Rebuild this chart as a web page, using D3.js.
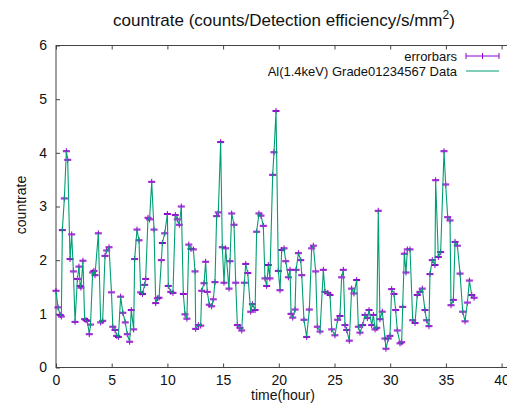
<!DOCTYPE html>
<html lang="en">
<head>
    <meta charset="UTF-8">
    <title>countrate</title>
    <style>
        body {
            margin: 0;
            padding: 0;
            background-color: #fff;
        }

        svg {
            display: block;
            overflow: hidden;
            font-family: Arial, "Liberation Sans", sans-serif;
        }

        .axis path, .axis line {
            stroke: #444;
        }

        .axis text {
            fill: #111;
            font-size: 14px;
        }
    </style>
</head>
<body>

<div id="chart"></div>

<script src="https://d3js.org/d3.v7.min.js"></script>

<script>
    // time in hours and countrate
    const hours = [
        0.00, 0.18, 0.38, 0.48, 0.57, 0.75, 0.93, 1.05, 1.26, 1.41,
        1.56, 1.71, 1.92, 2.06, 2.17, 2.24, 2.42, 2.57, 2.70, 2.81,
        2.99, 3.10, 3.29, 3.40, 3.50, 3.80, 4.01, 4.19, 4.40, 4.55,
        4.76, 4.98, 5.10, 5.30, 5.45, 5.60, 5.80, 6.00, 6.22, 6.40,
        6.61, 6.76, 6.97, 7.06, 7.27, 7.45, 7.60, 7.76, 7.96, 8.05,
        8.26, 8.40, 8.59, 8.80, 8.95, 9.10, 9.25, 9.46, 9.55, 9.76,
        10.00, 10.08, 10.30, 10.50, 10.71, 10.89, 11.07, 11.25, 11.43, 11.58,
        11.75, 11.92, 12.12, 12.33, 12.48, 12.54, 12.78, 12.99, 13.08, 13.29,
        13.43, 13.58, 13.76, 13.97, 14.12, 14.27, 14.42, 14.57, 14.78, 14.93,
        15.08, 15.23, 15.53, 15.62, 15.77, 15.98, 16.13, 16.28, 16.52, 16.67,
        16.91, 17.03, 17.21, 17.48, 17.63, 17.87, 18.01, 18.22, 18.40, 18.61,
        18.76, 18.91, 19.06, 19.20, 19.45, 19.57, 19.75, 19.96, 20.11, 20.26,
        20.47, 20.62, 20.86, 21.01, 21.10, 21.25, 21.46, 21.55, 21.76, 21.97,
        22.06, 22.26, 22.50, 22.74, 22.95, 23.10, 23.31, 23.46, 23.70, 24.00,
        24.15, 24.40, 24.60, 24.75, 25.04, 25.28, 25.49, 25.64, 25.79, 25.94,
        26.09, 26.33, 26.54, 26.75, 26.99, 27.14, 27.29, 27.53, 27.74, 27.95,
        28.10, 28.34, 28.49, 28.64, 28.79, 28.93, 29.08, 29.29, 29.53, 29.62,
        29.83, 29.98, 30.13, 30.34, 30.49, 30.64, 30.88, 31.03, 31.12, 31.27,
        31.42, 31.54, 31.78, 32.02, 32.23, 32.43, 32.67, 32.88, 33.12, 33.27,
        33.48, 33.57, 33.78, 34.02, 34.08, 34.32, 34.53, 34.83, 34.98, 35.16,
        35.37, 35.46, 35.67, 35.82, 36.03, 36.27, 36.51, 36.72, 36.93, 37.11,
        37.32, 37.53
    ];

    const countrate = [
        1.43, 1.12, 0.98, 0.95, 2.56, 3.15, 4.03, 3.87, 2.02, 2.48,
        1.79, 0.85, 1.65, 1.88, 1.52, 1.49, 1.99, 0.90, 0.88, 0.87,
        0.62, 0.80, 1.77, 1.80, 1.72, 2.50, 0.84, 0.87, 2.08, 2.18,
        2.24, 1.40, 0.76, 0.70, 0.59, 0.57, 1.32, 1.02, 0.84, 0.62,
        0.48, 1.07, 0.71, 2.02, 2.57, 2.37, 1.40, 1.37, 1.54, 1.65,
        2.79, 2.76, 3.46, 2.57, 1.20, 1.29, 1.30, 2.00, 2.32, 2.50,
        2.86, 1.52, 1.41, 1.39, 2.84, 2.76, 2.66, 3.00, 1.37, 0.99,
        0.91, 2.29, 2.21, 2.20, 1.79, 0.72, 0.79, 0.78, 1.43, 1.57,
        1.97, 1.41, 1.17, 1.14, 1.27, 1.59, 2.82, 2.89, 4.20, 2.24,
        1.58, 2.22, 1.47, 1.98, 2.87, 2.66, 1.58, 0.79, 0.74, 0.69,
        1.58, 1.93, 1.76, 1.04, 1.18, 1.07, 2.53, 2.87, 2.83, 2.64,
        1.66, 1.52, 1.91, 1.66, 3.59, 4.01, 4.78, 1.80, 1.44, 2.19,
        2.22, 1.98, 1.68, 1.82, 1.00, 0.93, 1.08, 1.82, 2.13, 2.00,
        1.72, 0.89, 0.57, 1.08, 2.22, 2.27, 1.79, 0.76, 0.67, 1.82,
        1.41, 1.39, 1.35, 0.71, 0.60, 0.89, 0.96, 1.68, 1.82, 0.79,
        0.70, 0.50, 1.47, 1.38, 1.63, 0.76, 0.65, 0.79, 0.98, 0.92,
        1.07, 0.79, 0.98, 0.71, 0.74, 2.92, 0.90, 1.04, 0.54, 0.35,
        0.54, 0.59, 1.46, 1.37, 1.07, 0.69, 0.45, 0.47, 1.13, 2.12,
        1.77, 2.20, 2.20, 0.88, 0.83, 1.35, 1.41, 1.47, 1.07, 0.88,
        0.77, 1.74, 2.00, 1.91, 3.49, 2.06, 2.15, 4.03, 3.41, 2.80,
        2.74, 1.16, 1.26, 2.34, 2.27, 1.75, 1.04, 0.86, 1.21, 1.62,
        1.35, 1.30
    ];

    const xTicks = [0, 5, 10, 15, 20, 25, 30, 35, 40];
    const yTicks = [0, 1, 2, 3, 4, 5, 6];

    const legendLabels = ["errorbars", "Al(1.4keV) Grade01234567 Data"];

    const svgWidth = 507;
    const svgHeight = 403;
    const margin = { top: 45.5, left: 56, bottom: 367.5 };
    const purple = "#9400d3";
    const green = "#009e73";

    const data = hours.map((t, i) => ({ t: t, v: countrate[i] }));

    const svg = d3.select("#chart")
        .append("svg")
        .attr("width", svgWidth)
        .attr("height", svgHeight);

    // x range runs past the right edge of the picture, like the cropped original
    const x = d3.scaleLinear()
        .domain([0, 41.2])
        .range([margin.left, margin.left + 41.2 * 11.14]);

    const y = d3.scaleLinear()
        .domain([0, 6])
        .range([margin.bottom, margin.top]);

    // frame
    svg.append("rect")
        .attr("x", margin.left)
        .attr("y", margin.top)
        .attr("width", x(41.2) - margin.left)
        .attr("height", margin.bottom - margin.top)
        .attr("fill", "none")
        .attr("stroke", "#444")
        .attr("stroke-width", 1);

    svg.append("g")
        .attr("class", "axis")
        .attr("transform", "translate(0," + margin.bottom + ")")
        .call(d3.axisBottom(x).tickValues(xTicks).tickFormat(d3.format("d"))
            .tickSizeInner(-4).tickSizeOuter(0).tickPadding(8))
        .call(g => g.select(".domain").remove());

    svg.append("g")
        .attr("class", "axis")
        .attr("transform", "translate(0," + margin.top + ")")
        .call(d3.axisTop(x).tickValues(xTicks).tickSizeInner(-4).tickSizeOuter(0).tickFormat(""))
        .call(g => g.select(".domain").remove());

    svg.append("g")
        .attr("class", "axis")
        .attr("transform", "translate(" + margin.left + ",0)")
        .call(d3.axisLeft(y).tickValues(yTicks).tickFormat(d3.format("d"))
            .tickSizeInner(-4).tickSizeOuter(0).tickPadding(9))
        .call(g => g.select(".domain").remove());

    // error bar glyphs (point + tiny bar with caps)
    const glyph = (cx, cy) =>
        "M" + (cx - 3.5) + "," + (cy - 0.5) + "h7" +
        "M" + (cx - 3.5) + "," + (cy + 0.5) + "h7" +
        "M" + cx + "," + (cy - 3) + "v6";

    svg.append("g")
        .selectAll("path")
        .data(data)
        .join("path")
        .attr("d", d => glyph(x(d.t), y(d.v)))
        .attr("fill", "none")
        .attr("stroke", purple)
        .attr("stroke-width", 1);

    const line = d3.line()
        .x(d => x(d.t))
        .y(d => y(d.v));

    svg.append("path")
        .datum(data)
        .attr("fill", "none")
        .attr("stroke", green)
        .attr("stroke-width", 1.1)
        .attr("d", line);

    // title
    const title = svg.append("text")
        .attr("x", 284)
        .attr("y", 26)
        .attr("text-anchor", "middle")
        .attr("font-size", 17)
        .attr("fill", "#111");
    title.append("tspan").text("countrate (counts/Detection efficiency/s/mm");
    title.append("tspan").attr("dy", -7).attr("font-size", 12).text("2");
    title.append("tspan").attr("dy", 7).text(")");

    svg.append("text")
        .attr("x", 283)
        .attr("y", 400)
        .attr("text-anchor", "middle")
        .attr("font-size", 14)
        .attr("fill", "#111")
        .text("time(hour)");

    svg.append("text")
        .attr("transform", "translate(26,205) rotate(-90)")
        .attr("text-anchor", "middle")
        .attr("font-size", 14)
        .attr("fill", "#111")
        .text("countrate");

    // legend
    const legend = svg.append("g");
    legendLabels.forEach((label, i) => {
        const ly = 56 + i * 15;
        legend.append("text")
            .attr("x", 457)
            .attr("y", ly + 4.5)
            .attr("text-anchor", "end")
            .attr("font-size", 13)
            .attr("fill", "#111")
            .text(label);
        if (i === 0) {
            legend.append("path")
                .attr("d", "M466," + ly + "H499M466," + (ly - 3) + "v6M499," + (ly - 3) + "v6M482.5," + (ly - 3) + "v6")
                .attr("fill", "none")
                .attr("stroke", purple)
                .attr("stroke-width", 1);
        } else {
            legend.append("path")
                .attr("d", "M466," + ly + "H499")
                .attr("stroke", green)
                .attr("stroke-width", 1.1);
        }
    });
</script>

</body>
</html>
